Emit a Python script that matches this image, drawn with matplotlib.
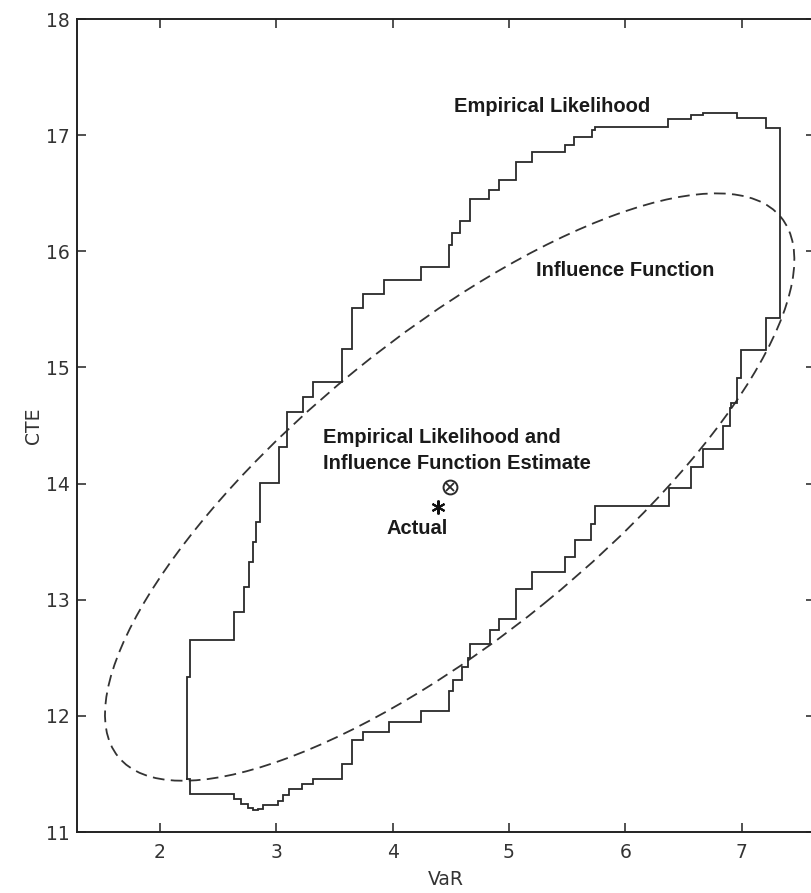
import numpy as np
import matplotlib
matplotlib.use("Agg")
import matplotlib.pyplot as plt
from matplotlib.patches import Ellipse

# Empirical-likelihood confidence region, stored as a rectilinear contour:
# vertical run at el_var[i] from el_cte[i] to el_cte[i+1], then a horizontal
# run at el_cte[i+1] over to el_var[i+1].
el_var = [2.229, 2.258, 2.636, 2.722, 2.765, 2.799, 2.825, 2.859, 3.022, 3.091,
          3.229, 3.314, 3.564, 3.650, 3.744, 3.924, 4.242, 4.483, 4.509, 4.577,
          4.663, 4.827, 4.912, 5.058, 5.196, 5.479, 5.557, 5.711, 5.737, 6.364,
          6.568, 6.668, 6.957, 7.212, 7.327,
          7.212, 6.991, 6.960, 6.912, 6.897, 6.839, 6.668, 6.568, 6.376, 5.743,
          5.709, 5.565, 5.479, 5.199, 5.056, 4.912, 4.835, 4.669, 4.649, 4.592,
          4.515, 4.483, 4.240, 3.967, 3.747, 3.652, 3.561, 3.317, 3.217, 3.111,
          3.059, 3.011, 2.885, 2.840, 2.800, 2.756, 2.700, 2.638, 2.258, 2.229]
el_cte = [11.460, 12.332, 12.651, 12.892, 13.108, 13.323, 13.495, 13.668, 14.003, 14.314,
          14.615, 14.744, 14.873, 15.158, 15.511, 15.631, 15.752, 15.864, 16.053, 16.157,
          16.260, 16.450, 16.527, 16.613, 16.768, 16.854, 16.915, 16.984, 17.044, 17.074,
          17.143, 17.173, 17.188, 17.145, 17.059, 15.422,
          15.149, 14.905, 14.690, 14.647, 14.497, 14.302, 14.144, 13.966, 13.808, 13.656,
          13.513, 13.366, 13.237, 13.090, 12.838, 12.737, 12.617, 12.494, 12.421, 12.313,
          12.214, 12.042, 11.949, 11.863, 11.790, 11.589, 11.460, 11.417, 11.374, 11.322,
          11.267, 11.230, 11.202, 11.187, 11.210, 11.245, 11.280, 11.331, 11.460]

# Influence-function confidence ellipse (centre, full axis lengths, tilt in degrees)
estimate = (4.49, 13.97)
actual = (4.39, 13.80)
if_width = 7.35
if_height = 2.58
if_angle = 39.2

xticks = [2, 3, 4, 5, 6, 7]
yticks = [11, 12, 13, 14, 15, 16, 17, 18]

fig = plt.figure(figsize=(8.12, 8.93), dpi=100)
ax = fig.add_axes([0.0948, 0.0683, 0.9089, 0.9104])

# Step contour vertices
n = len(el_var)
px, py = [], []
for i in range(n):
    px += [el_var[i], el_var[i]]
    py += [el_cte[i], el_cte[(i + 1) % n]]
ax.plot(px, py, color="#2a2a2a", lw=1.3, solid_joinstyle="miter")

ell = Ellipse(estimate, if_width, if_height, angle=if_angle, fill=False,
              edgecolor="#333333", lw=1.3, linestyle=(0, (6.5, 3.5)))
ax.add_patch(ell)

# Point estimate (both methods) and the true value
ax.plot(*estimate, marker="o", ms=10, mfc="none", mec="#2a2a2a", mew=1.4)
ax.plot(*estimate, marker="x", ms=6, color="#2a2a2a", mew=1.3)
ax.plot(*actual, marker=(6, 2, 0), ms=10, color="#111111", mew=1.5)

bold = dict(fontfamily="Liberation Sans", fontweight="bold", fontsize=14.5,
            color="#1a1a1a")
ax.text(5.368, 17.25, "Empirical Likelihood", ha="center", va="center", **bold)
ax.text(6.00, 15.834, "Influence Function", ha="center", va="center", **bold)
ax.text(3.40, 14.40, "Empirical Likelihood and", ha="left", va="center", **bold)
ax.text(3.40, 14.176, "Influence Function Estimate", ha="left", va="center", **bold)
ax.text(4.212, 13.616, "Actual", ha="center", va="center", **bold)

ax.set_xlim(1.287, 7.63)
ax.set_ylim(11, 18)
ax.set_xticks(xticks)
ax.set_yticks(yticks)
ax.tick_params(direction="in", length=6.5, width=1.1, top=True, right=True,
               labelsize=13.5, labelcolor="#333333", color="#222222")
ax.tick_params(axis="x", pad=8)
ax.tick_params(axis="y", pad=5)
for s in ax.spines.values():
    s.set_linewidth(1.4)
    s.set_color("#222222")

ax.set_xlabel("VaR", fontsize=13.5, color="#333333", labelpad=6)
ax.set_ylabel("CTE", fontsize=13.5, color="#333333", labelpad=2)

fig.savefig("out.png", dpi=100)
